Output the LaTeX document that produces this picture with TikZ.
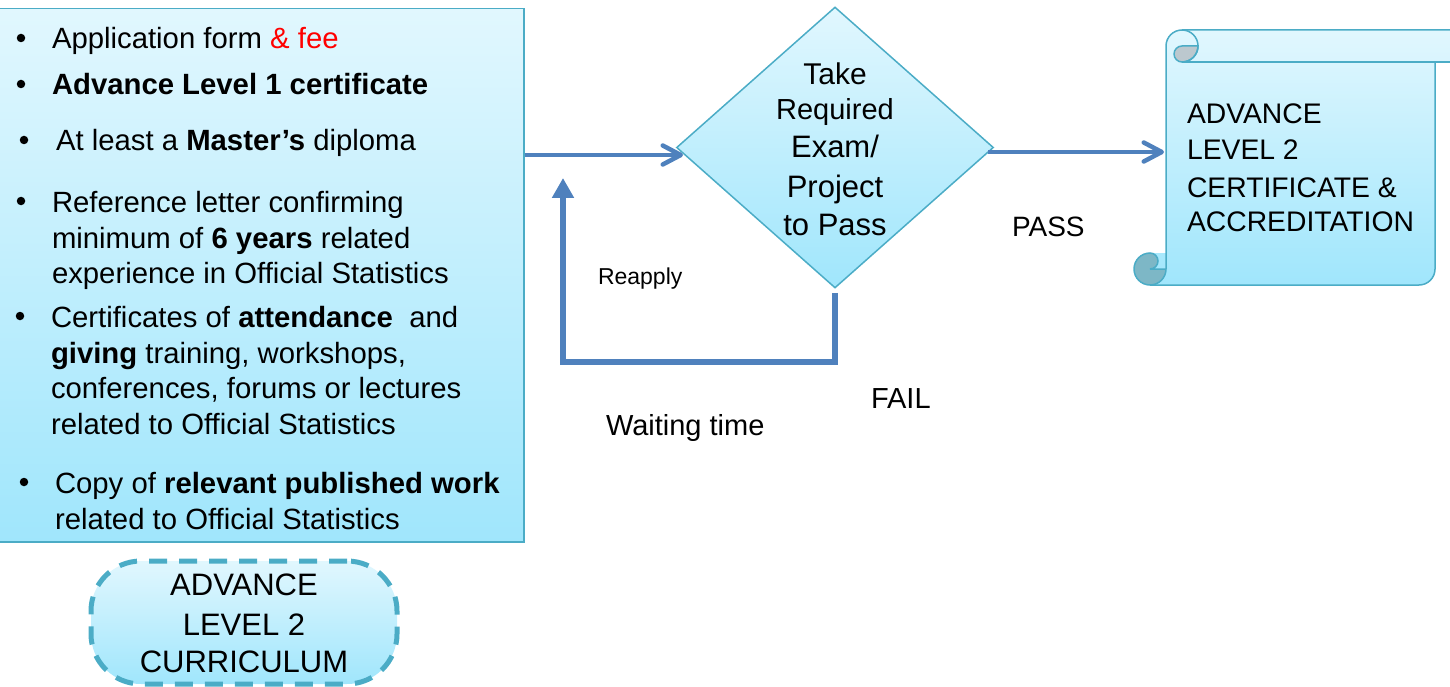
\documentclass[tikz,border=0pt]{standalone}
\usepackage{fontspec}
\setmainfont{Liberation Sans}
\usetikzlibrary{arrows.meta,shapes.geometric}
\definecolor{teal1}{RGB}{75,172,198}
\definecolor{arrowc}{RGB}{79,129,189}
\definecolor{topc}{RGB}{225,247,254}
\definecolor{botc}{RGB}{160,230,252}
\definecolor{curlA}{RGB}{188,200,206}
\definecolor{curlB}{RGB}{125,183,198}
\definecolor{redt}{RGB}{255,0,0}
\newcommand\setfs[1]{\fontsize{#1}{#1}\selectfont}
\begin{document}
\begin{tikzpicture}[x=1pt,y=1pt,
  panel/.style={draw=teal1,line width=1.5pt,top color=topc,bottom color=botc},
  txt/.style={inner sep=0pt,outer sep=0pt,anchor=base west,font=\setfs{29.3}},
  ctxt/.style={inner sep=0pt,outer sep=0pt,anchor=base,font=\setfs{29}},
  bul/.style={circle,fill=black,inner sep=0pt,outer sep=0pt,minimum size=8.5pt},
  flow/.style={draw=arrowc,line width=4.5pt,-{Straight Barb[length=18pt,width=19pt,round]}},
  loopline/.style={draw=arrowc,line width=5.5pt,-{Triangle[length=20pt,width=21pt]}},
  sc/.style={draw=teal1,line width=1.5pt},
]
\useasboundingbox (0,0) rectangle (1450,-687);

% requirements box
\node[panel,rectangle,minimum width=526pt,minimum height=533pt,inner sep=0pt,anchor=north west] (req) at (-3,-8) {};
\node[bul] (b1) at (21,-38) {};
\node[txt] (t1) at (52,-49) {Application form \textcolor{redt}{\& fee}};
\node[bul] (b2) at (21,-84) {};
\node[txt] (t2) at (52,-95) {\bfseries Advance Level 1 certificate};
\node[bul] (b3) at (24,-140) {};
\node[txt] (t3) at (56,-151) {At least a \textbf{Master’s} diploma};
\node[bul] (b4) at (21,-201) {};
\node[txt] (t4a) at (52,-212) {Reference letter confirming};
\node[txt] (t4b) at (52,-248) {minimum of \textbf{6 years} related};
\node[txt] (t4c) at (52,-283) {experience in Official Statistics};
\node[bul] (b5) at (20,-316) {};
\node[txt] (t5a) at (51,-327) {Certificates of \textbf{attendance}\ \ and};
\node[txt] (t5b) at (51,-363) {\textbf{giving} training, workshops,};
\node[txt] (t5c) at (51,-398) {conferences, forums or lectures};
\node[txt] (t5d) at (51,-434) {related to Official Statistics};
\node[bul] (b6) at (24,-482) {};
\node[txt] (t6a) at (55,-493) {Copy of \textbf{relevant published work}};
\node[txt] (t6b) at (55,-529) {related to Official Statistics};

% curriculum
\node[draw=teal1,line width=5pt,dash pattern=on 18pt off 12pt,rounded corners=50pt,
      top color=topc,bottom color=botc,minimum width=306pt,minimum height=123pt,inner sep=0pt] (curr) at (244,-622.5) {};
\node[ctxt,font=\setfs{31}] (c1) at (244,-595) {ADVANCE};
\node[ctxt,font=\setfs{31}] (c2) at (244,-635) {LEVEL 2};
\node[ctxt,font=\setfs{31}] (c3) at (244,-672) {CURRICULUM};

% decision
\node[panel,diamond,minimum width=317pt,minimum height=281pt,inner sep=0pt] (dec) at (835,-147.5) {};
\node[ctxt,font=\setfs{30}] (d1) at (835,-85) {Take};
\node[ctxt,font=\setfs{29}] (d2) at (835,-120) {Required};
\node[ctxt,font=\setfs{31}] (d3) at (835,-158) {Exam/};
\node[ctxt,font=\setfs{31}] (d4) at (835,-197) {Project};
\node[ctxt,font=\setfs{31}] (d5) at (835,-235) {to Pass};

% scroll
\shade[top color=topc,bottom color=botc] (1166,-46) arc[start angle=180,end angle=90,radius=16] -- (1460,-30) -- (1460,-62) -- (1435,-62) -- (1435,-269) arc[start angle=0,end angle=-90,radius=16] -- (1150,-285) arc[start angle=-90,end angle=-270,radius=16] -- (1166,-253) -- cycle;
\filldraw[fill=curlA,sc] (1182,-46) arc[start angle=90,end angle=270,radius=8] arc[start angle=-90,end angle=0,radius=16] -- cycle;
\filldraw[fill=curlB,sc] (1166,-269) arc[start angle=0,end angle=-270,radius=16] arc[start angle=90,end angle=-90,radius=8] -- cycle;
\draw[sc] (1166,-269) -- (1166,-46) arc[start angle=180,end angle=90,radius=16] -- (1460,-30);
\draw[sc] (1460,-62) -- (1182,-62);
\draw[sc] (1182,-30) arc[start angle=90,end angle=-90,radius=16];
\draw[sc] (1435,-62) -- (1435,-269) arc[start angle=0,end angle=-90,radius=16] -- (1150,-285);
\node[txt,font=\setfs{28.3}] (s1) at (1187,-124) {ADVANCE};
\node[txt,font=\setfs{28.3}] (s2) at (1187,-160) {LEVEL 2};
\node[txt,font=\setfs{28.3}] (s3) at (1187,-197) {CERTIFICATE \&};
\node[txt,font=\setfs{28.3}] (s4) at (1187,-231) {ACCREDITATION};

% labels
\node[txt,font=\setfs{23}] (reapply) at (598,-284) {Reapply};
\node[txt,font=\setfs{29}] (wait) at (606,-435) {Waiting time};
\node[txt,font=\setfs{29}] (fail) at (871,-408) {FAIL};
\node[txt,font=\setfs{28}] (pass) at (1012,-236) {PASS};

% connectors
\coordinate (in1) at (683,-155);
\coordinate (pin) at (1164,-152);
\coordinate (reap) at (563,-178);
\draw[flow] (req.east |- in1) -- (in1);
\draw[flow] ([xshift=-6pt]dec.east |- pin) -- (pin);
\draw[loopline] ([yshift=-4pt]dec.south) -- ++(0,-69) -| (reap);
\end{tikzpicture}
\end{document}
